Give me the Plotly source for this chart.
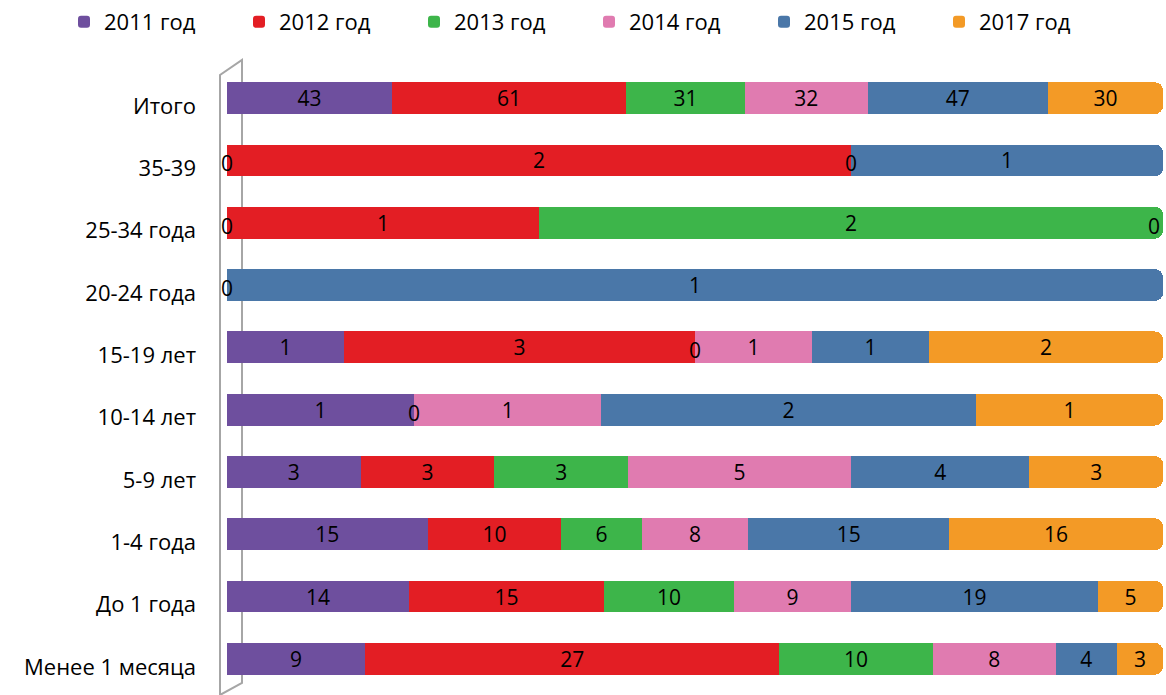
import plotly.graph_objects as go

categories = ["Менее 1 месяца", "До 1 года", "1-4 года", "5-9 лет", "10-14 лет",
              "15-19 лет", "20-24 года", "25-34 года", "35-39", "Итого"]

series_names = ["2011 год", "2012 год", "2013 год", "2014 год", "2015 год", "2017 год"]

v2011 = [9, 14, 15, 3, 1, 1, 0, 0, 0, 43]
v2012 = [27, 15, 10, 3, 0, 3, None, 1, 2, 61]
v2013 = [10, 10, 6, 3, None, 0, None, 2, None, 31]
v2014 = [8, 9, 8, 5, 1, 1, None, None, 0, 32]
v2015 = [4, 19, 15, 4, 2, 1, 1, 0, 1, 47]
v2017 = [3, 5, 16, 3, 1, 2, None, None, None, 30]

series_values = [v2011, v2012, v2013, v2014, v2015, v2017]
colors = ["#6E4F9E", "#E31E24", "#3DB54A", "#E07BB0", "#4A77A8", "#F39A26"]

FONT = "Open Sans"

fig = go.Figure()
for name, vals, col in zip(series_names, series_values, colors):
    texts = ["" if (v is None or v == 0) else str(v) for v in vals]
    fig.add_trace(go.Bar(
        y=categories, x=[0 if v is None else v for v in vals], name=name,
        orientation="h", marker=dict(color=col, line=dict(width=0)),
        text=texts, textposition="inside", insidetextanchor="middle",
        textangle=0,
        textfont=dict(size=21, color="#000000", family=FONT),
        constraintext="none", hoverinfo="name+x+y",
    ))

# zero-value labels positioned from data (cumulative percentage)
totals = [sum((s[i] or 0) for s in series_values) for i in range(len(categories))]
for i, cat in enumerate(categories):
    cum = 0.0
    for s in series_values:
        v = s[i]
        if v is None:
            continue
        if v == 0:
            fig.add_annotation(x=cum, y=cat, xref="x", yref="y", text="0",
                               showarrow=False, yshift=-3,
                               xshift=-9 if cum >= 99.9 else 0,
                               font=dict(size=21, color="#000000", family=FONT))
        cum += 100.0 * v / totals[i]

# left 3D wall outline
W, H = 936, 623
def px(x): return (x - 227) / W
def py(y): return (690 - y) / H
path = (f"M {px(220)},{py(695)} L {px(220)},{py(75)} L {px(242)},{py(60)} "
        f"L {px(242)},{py(683)} L {px(220)},{py(695)}")
fig.add_shape(type="path", path=path, xref="paper", yref="paper",
              line=dict(color="#A6A6A6", width=2), layer="below")

fig.update_layout(
    width=1166, height=695,
    barmode="stack", barnorm="percent", bargap=0.49, barcornerradius=8,
    plot_bgcolor="white", paper_bgcolor="white",
    margin=dict(l=227, r=3, t=67, b=5, autoexpand=False),
    uniformtext=dict(minsize=21, mode="show"),
    font=dict(family=FONT, size=21, color="#000000"),
    legend=dict(orientation="h", xref="paper", yref="paper",
                x=px(64), xanchor="left", y=py(22), yanchor="middle",
                font=dict(size=22, family=FONT, color="#000000"),
                entrywidth=130, entrywidthmode="pixels", traceorder="normal",
                itemwidth=30),
    xaxis=dict(range=[0, 100], visible=False, fixedrange=True),
    yaxis=dict(type="category", categoryorder="array", categoryarray=categories,
               showgrid=False, showline=False, ticks="",
               ticklabelstandoff=30, ticklabelshift=8,
               tickfont=dict(size=22, family=FONT, color="#000000")),
)

fig.write_html("out.html", config={"displayModeBar": False},
               post_script="document.body.style.margin='0';")
